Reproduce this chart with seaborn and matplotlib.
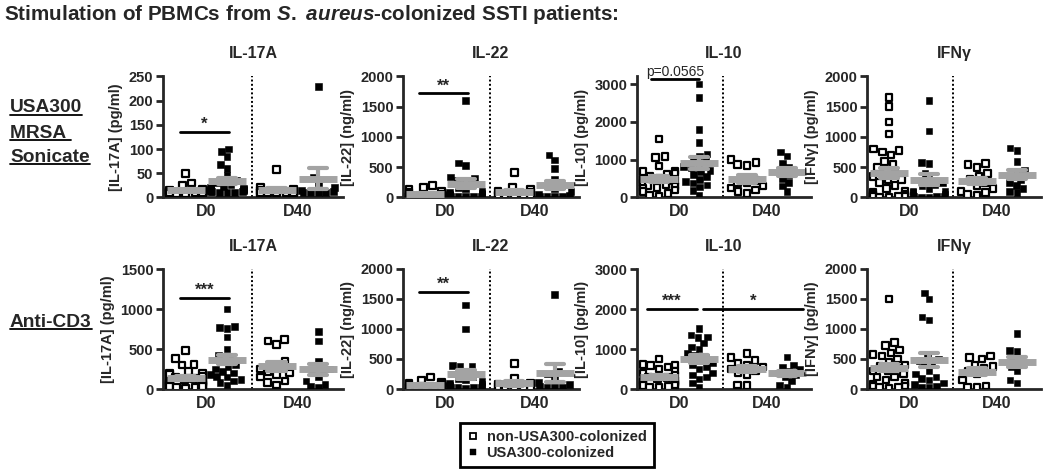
import numpy as np
import pandas as pd
import seaborn as sns
import matplotlib.pyplot as plt
from matplotlib.lines import Line2D

# values; order in each panel:
# D0 non-USA300, D0 USA300, D40 non-USA300, D40 USA300

# --- USA300 MRSA sonicate ---
son_il17a_d0_non = [50, 30, 25, 17, 15, 14, 13, 12, 12, 11, 11, 10, 10, 10, 10, 9, 9, 9, 8, 8]
son_il17a_d0_usa = [100, 95, 85, 68, 60, 45, 35, 30, 26, 23, 21, 19, 17, 16, 15, 14, 13, 12, 12, 11, 10, 10]
son_il17a_d40_non = [58, 22, 16, 14, 12, 11, 10, 10, 10, 9, 9, 9]
son_il17a_d40_usa = [230, 42, 30, 20, 15, 12, 11, 10, 10, 10]

son_il22_d0_non = [200, 160, 140, 110, 80, 60, 45, 35, 30, 25, 22, 20, 20, 18, 18, 15, 15, 15]
son_il22_d0_usa = [1600, 570, 530, 340, 320, 290, 260, 210, 170, 140, 110, 90, 70, 55, 45, 35, 30, 25, 20, 20, 18, 15]
son_il22_d40_non = [410, 160, 130, 110, 80, 55, 40, 30, 22, 20, 18, 15]
son_il22_d40_usa = [700, 620, 480, 300, 200, 150, 100, 60, 35, 25, 20, 18, 15]

son_il10_d0_non = [1550, 1080, 1050, 830, 700, 680, 650, 620, 560, 500, 480, 450, 400, 380, 350,
                   320, 300, 290, 270, 250, 200, 150, 100, 60, 40]
son_il10_d0_usa = [3000, 2650, 1800, 1450, 1150, 1100, 1000, 950, 880, 820, 780, 720, 680, 600, 550,
                   480, 430, 380, 330, 280, 180, 60]
son_il10_d40_non = [1000, 920, 880, 850, 450, 400, 380, 300, 250, 200, 150, 100]
son_il10_d40_usa = [1200, 1100, 900, 800, 700, 600, 500, 400, 300, 150]

son_ifng_d0_non = [1650, 1500, 1250, 1050, 800, 780, 750, 700, 600, 550, 500, 450, 400, 350, 300, 300,
                   250, 200, 150, 100, 80, 60, 50, 40, 30, 25, 20, 20, 15, 15, 10, 10]
son_ifng_d0_usa = [1600, 1100, 580, 560, 400, 300, 250, 220, 200, 150, 110, 100, 80, 50, 30, 25, 20, 15, 10, 10]
son_ifng_d40_non = [560, 540, 500, 400, 350, 300, 250, 200, 150, 100, 80, 50, 30]
son_ifng_d40_usa = [820, 780, 600, 450, 420, 300, 250, 200, 150, 100, 80]

# --- anti-CD3 ---
cd3_il17a_d0_non = [480, 380, 310, 300, 220, 200, 195, 180, 155, 150, 130, 120, 105, 100, 90, 80, 75, 70,
                    60, 55, 50, 40, 35, 30, 20, 15, 10]
cd3_il17a_d0_usa = [1000, 780, 770, 760, 650, 500, 420, 400, 350, 300, 280, 250, 220, 200, 180, 160, 150,
                    120, 100, 80, 50]
cd3_il17a_d40_non = [620, 600, 560, 350, 300, 250, 220, 200, 180, 150, 100, 80, 50]
cd3_il17a_d40_usa = [720, 600, 350, 250, 220, 200, 150, 100, 60, 30, 20]

cd3_il22_d0_non = [200, 150, 110, 100, 80, 60, 45, 35, 30, 25, 20, 20, 15]
cd3_il22_d0_usa = [1400, 1000, 390, 380, 370, 300, 250, 200, 180, 150, 120, 100, 80, 60, 50, 40, 30, 25,
                   20, 20, 15]
cd3_il22_d40_non = [420, 180, 100, 80, 55, 40, 30, 25, 20, 15]
cd3_il22_d40_usa = [1580, 300, 250, 200, 110, 80, 50, 30, 25, 20]

cd3_il10_d0_non = [750, 620, 600, 580, 550, 500, 450, 400, 350, 300, 280, 250, 220, 200, 180, 160, 150,
                   120, 110, 100, 80, 60, 50, 30]
cd3_il10_d0_usa = [1520, 1350, 1300, 1280, 1150, 1050, 1000, 900, 850, 800, 700, 650, 600, 550, 500, 400,
                   350, 300, 250, 150, 50]
cd3_il10_d40_non = [880, 780, 720, 650, 600, 550, 500, 450, 400, 350, 100, 80]
cd3_il10_d40_usa = [800, 600, 550, 500, 450, 400, 350, 300, 200, 100, 50]

cd3_ifng_d0_non = [1500, 770, 720, 650, 600, 580, 550, 500, 450, 400, 380, 350, 300, 300, 250, 200, 200,
                   150, 100, 100, 80, 50, 50, 30, 20, 10]
cd3_ifng_d0_usa = [1600, 1500, 1200, 1150, 550, 500, 480, 450, 400, 300, 250, 200, 180, 150, 100, 80, 50, 30, 20]
cd3_ifng_d40_non = [550, 520, 500, 400, 380, 350, 300, 250, 150, 50, 30, 20]
cd3_ifng_d40_usa = [930, 640, 620, 500, 420, 380, 300, 150, 100]

cytokines = ["IL-17A", "IL-22", "IL-10", "IFNγ"]
ylabels = ["[IL-17A] (pg/ml)", "[IL-22] (ng/ml)", "[IL-10] (pg/ml)", "[IFNγ] (pg/ml)"]
timepoints = ["D0", "D40"]
legend_labels = ["non-USA300-colonized", "USA300-colonized"]

panels = [
    [
        [son_il17a_d0_non, son_il17a_d0_usa, son_il17a_d40_non, son_il17a_d40_usa],
        [son_il22_d0_non, son_il22_d0_usa, son_il22_d40_non, son_il22_d40_usa],
        [son_il10_d0_non, son_il10_d0_usa, son_il10_d40_non, son_il10_d40_usa],
        [son_ifng_d0_non, son_ifng_d0_usa, son_ifng_d40_non, son_ifng_d40_usa],
    ],
    [
        [cd3_il17a_d0_non, cd3_il17a_d0_usa, cd3_il17a_d40_non, cd3_il17a_d40_usa],
        [cd3_il22_d0_non, cd3_il22_d0_usa, cd3_il22_d40_non, cd3_il22_d40_usa],
        [cd3_il10_d0_non, cd3_il10_d0_usa, cd3_il10_d40_non, cd3_il10_d40_usa],
        [cd3_ifng_d0_non, cd3_ifng_d0_usa, cd3_ifng_d40_non, cd3_ifng_d40_usa],
    ],
]

# y axis range / tick step per panel
ytop = [[250, 2000, 3200, 2000], [1500, 2000, 3000, 2000]]
ystep = [[50, 500, 1000, 500], [500, 500, 1000, 500]]
ymax_tick = [[250, 2000, 3000, 2000], [1500, 2000, 3000, 2000]]

# significance bars: (x0, x1, y, label)
sig = {
    (0, 0): [(-0.15, 1.05, 135, "*")],
    (0, 1): [(-0.15, 1.05, 1720, "**")],
    (0, 2): [(-0.2, 1.0, 3140, "p=0.0565")],
    (1, 0): [(-0.15, 1.05, 1140, "***")],
    (1, 1): [(-0.15, 1.05, 1620, "**")],
    (1, 2): [(-0.3, 0.95, 2000, "***"), (1.1, 3.6, 2000, "*")],
}

group_pos = [0, 1, 2.2, 3.2]
group_kind = ["non", "usa", "non", "usa"]

sns.set_style("ticks")
plt.rcParams["font.family"] = ["Liberation Sans", "DejaVu Sans"]
plt.rcParams["font.weight"] = "bold"
plt.rcParams["axes.titleweight"] = "bold"
plt.rcParams["axes.labelweight"] = "bold"
plt.rcParams["mathtext.fontset"] = "custom"
plt.rcParams["mathtext.rm"] = "Liberation Sans:bold"
plt.rcParams["mathtext.it"] = "Liberation Sans:italic:bold"

W, H = 1050, 473
fig = plt.figure(figsize=(10.5, 4.73), dpi=100)

col_left = [163, 403, 637, 867]
col_width = [180, 176, 174, 174]
row_bottom = [197.5, 389]
row_height = [121, 120]

for r in range(2):
    for c in range(4):
        ax = fig.add_axes([col_left[c] / W, 1 - row_bottom[r] / H, col_width[c] / W, row_height[r] / H])
        rows = []
        for vals, p, g in zip(panels[r][c], group_pos, group_kind):
            rows += [(p, v, g) for v in vals]
        df = pd.DataFrame(rows, columns=["pos", "value", "grp"])

        sns.swarmplot(data=df, x="pos", y="value", hue="grp", native_scale=True,
                      palette={"non": "white", "usa": "black"}, marker="s", size=4.8,
                      edgecolor="black", linewidth=1.6, legend=False, warn_thresh=1, ax=ax)
        # filled squares: no thick outline
        for coll in ax.collections:
            offs = coll.get_offsets()
            if len(offs) == 0:
                continue
            xm = np.median(offs[:, 0])
            if min(abs(xm - 1), abs(xm - 3.2)) < 0.45:
                coll.set_linewidth(0.4)

        # mean +/- SEM in grey, on top of the points
        sns.pointplot(data=df, x="pos", y="value", native_scale=True, errorbar="se",
                      capsize=0.45, color="#a3a3a3", marker="_", markersize=27,
                      markeredgewidth=5, linestyle="none", zorder=5,
                      err_kws={"linewidth": 3, "zorder": 5}, ax=ax)

        ax.axvline(1.6, color="black", linestyle=(0, (1, 1.2)), linewidth=1.4)

        ax.set_xlim(-0.55, 3.8)
        ax.set_ylim(0, ytop[r][c])
        ax.set_yticks(np.arange(0, ymax_tick[r][c] + 1, ystep[r][c]))
        ax.set_xticks([0.5, 2.7])
        ax.set_xticklabels(timepoints, fontsize=11.5)
        ax.tick_params(axis="x", length=0, pad=5)
        ax.tick_params(axis="y", length=5, width=2, labelsize=10.5, pad=2)
        ax.set_xlabel("")
        ax.set_ylabel(ylabels[c], fontsize=10.5, labelpad=4)
        ax.set_title(cytokines[c], fontsize=11.5, pad=13)
        sns.despine(ax=ax)
        for s in ("left", "bottom"):
            ax.spines[s].set_linewidth(2)

        for x0, x1, y, lab in sig.get((r, c), []):
            ax.plot([x0, x1], [y, y], color="black", linewidth=2, clip_on=False)
            if lab.startswith("p"):
                ax.text((x0 + x1) / 2, y, lab, ha="center", va="bottom", fontsize=10,
                        fontweight="normal", clip_on=False)
            else:
                ax.text((x0 + x1) / 2, y, lab, ha="center", va="bottom", fontsize=12, clip_on=False)

# headline and row labels
fig.text(0.004, 1 - 15 / H, r"Stimulation of PBMCs from $\mathit{S.\ aureus}$-colonized SSTI patients:",
         fontsize=14.9, va="center", ha="left")
row_texts = []
for txt, ypx in [("USA300", 108), ("MRSA ", 133), ("Sonicate", 157), ("Anti-CD3", 322)]:
    row_texts.append(fig.text(10 / W, 1 - ypx / H, txt, fontsize=13.8, va="center", ha="left"))

handles = [
    Line2D([], [], marker="s", linestyle="none", markerfacecolor="white", markeredgecolor="black",
           markeredgewidth=1.3, markersize=4.6),
    Line2D([], [], marker="s", linestyle="none", markerfacecolor="black", markeredgecolor="black",
           markeredgewidth=0.3, markersize=4.6),
]
leg = fig.legend(handles, legend_labels, loc="center", bbox_to_anchor=(557 / W, 1 - 445 / H),
                 frameon=True, fancybox=False, edgecolor="black", framealpha=1,
                 prop={"weight": "bold", "size": 10.5}, handlelength=0.7, handletextpad=0.6,
                 labelspacing=0.15, borderpad=0.5)
leg.get_frame().set_linewidth(2)

# underline the row labels
fig.canvas.draw()
renderer = fig.canvas.get_renderer()
for t in row_texts:
    bb = t.get_window_extent(renderer).transformed(fig.transFigure.inverted())
    fig.add_artist(Line2D([bb.x0, bb.x1], [bb.y0 + 0.004, bb.y0 + 0.004], color="black", linewidth=1.3))

fig.savefig("out.png", dpi=100)
